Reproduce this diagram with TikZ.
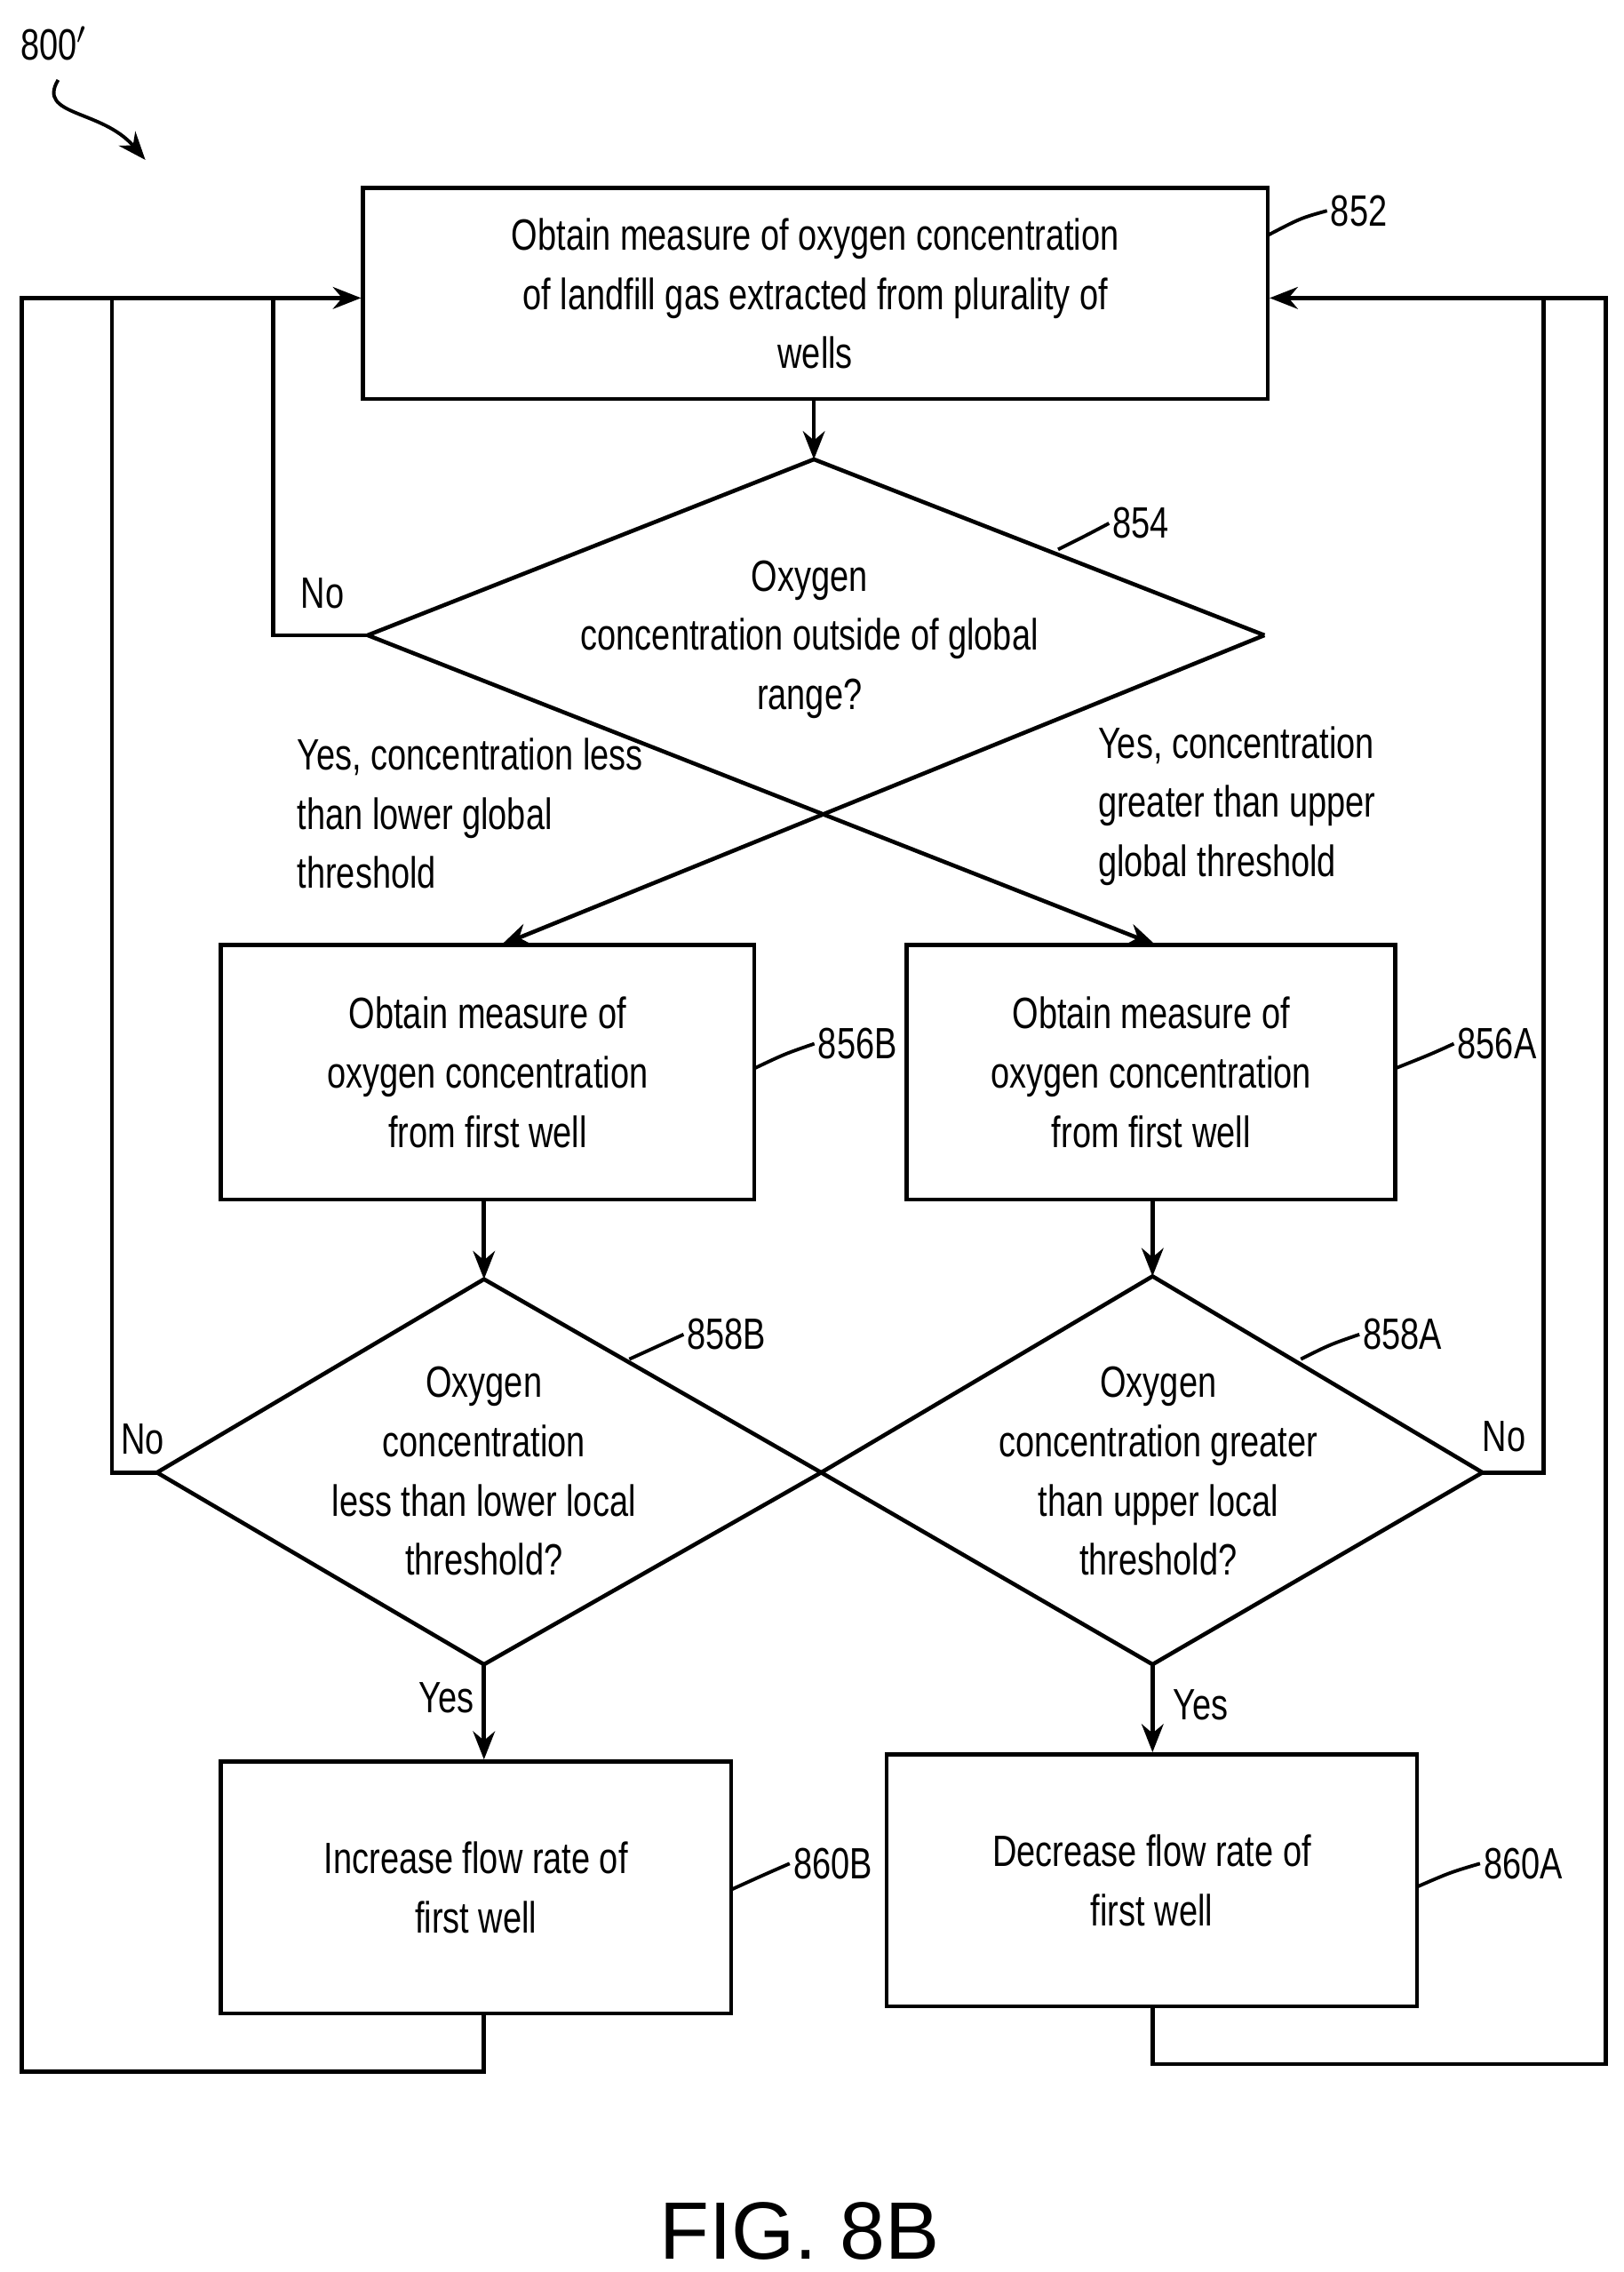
\documentclass[tikz,border=0pt]{standalone}
\usepackage{fontspec}
\setmainfont{Liberation Sans}[FakeStretch=0.77]
\newfontfamily\figfont{Liberation Sans}
\usetikzlibrary{arrows.meta}
\begin{document}
\begin{tikzpicture}[x=0.01633cm,y=-0.01633cm,
  every node/.style={font=\fontsize{14}{19}\selectfont},
  box/.style={draw,line width=1.3pt,rectangle,align=center,inner sep=0pt},
  ln/.style={line width=1.3pt},
  arr/.style={line width=1.3pt,-{Stealth[length=9pt,width=7pt]}},
  lead/.style={line width=1.1pt},
  lbl/.style={inner sep=1pt}]
\useasboundingbox (0,0) rectangle (1117,1563);
% boxes
\node[box,minimum width=10.16cm,minimum height=2.37cm] (b852) at (561,202) {Obtain measure of oxygen concentration\\of landfill gas extracted from plurality of\\wells};
\node[box,minimum width=5.99cm,minimum height=2.86cm] (b856B) at (335.5,737.5) {Obtain measure of\\oxygen concentration\\from first well};
\node[box,minimum width=5.49cm,minimum height=2.86cm] (b856A) at (792,737.5) {Obtain measure of\\oxygen concentration\\from first well};
\node[box,minimum width=5.73cm,minimum height=2.83cm] (b860B) at (327.5,1298.5) {Increase flow rate of\\first well};
\node[box,minimum width=5.96cm,minimum height=2.83cm] (b860A) at (792.5,1293.5) {Decrease flow rate of\\first well};
% diamond 854 (upper half + crossing connectors)
\coordinate (d854t) at (560,316);
\coordinate (d854l) at (253,437);
\coordinate (d854r) at (870,437);
\coordinate (p856A) at (795,650);
\coordinate (p856B) at (345,650);
\draw[ln] (d854l) -- (d854t) -- (d854r);
\node[align=center] (t854) at (557,440) {Oxygen\\concentration outside of global\\range?};
\draw[arr] (b852.south -| d854t) -- (d854t);
\draw[arr] (d854l) -- (p856A);
\draw[arr] (d854r) -- (p856B);
% diamonds 858
\coordinate (dBt) at (333,880); \coordinate (dBl) at (108,1013);
\coordinate (dBr) at (565,1013); \coordinate (dBb) at (333,1145);
\coordinate (dAt) at (793,878); \coordinate (dAl) at (565,1013);
\coordinate (dAr) at (1020,1013); \coordinate (dAb) at (793,1145);
\draw[ln] (dBt) -- (dBr) -- (dBb) -- (dBl) -- cycle;
\draw[ln] (dAt) -- (dAr) -- (dAb) -- (dAl) -- cycle;
\node[align=center] (t858B) at (333,1012) {Oxygen\\concentration\\less than lower local\\threshold?};
\node[align=center] (t858A) at (797,1012) {Oxygen\\concentration greater\\than upper local\\threshold?};
\draw[arr] (b856B.south -| dBt) -- (dBt);
\draw[arr] (b856A.south -| dAt) -- (dAt);
\draw[arr] (dBb) -- (b860B.north -| dBb);
\draw[arr] (dAb) -- (b860A.north -| dAb);
% feedback loops
\coordinate (inL) at (250,205); \coordinate (inR) at (872,205);
\draw[arr] (b860B.south -| 333,0) -- (333,1425) -- (15,1425) -- (15,205) -- (b852.west |- inL);
\draw[ln] (dBl) -- (77,1013) -- (77,205);
\draw[ln] (d854l) -- (188,437) -- (188,205);
\draw[arr] (b860A.south -| 793,0) -- (793,1420) -- (1105,1420) -- (1105,205) -- (b852.east |- inR);
\draw[ln] (dAr) -- (1062,1013) -- (1062,205);
% labels
\node[lbl] (no1) at (222,408) {No};
\node[lbl] (no2) at (98,990) {No};
\node[lbl] (no3) at (1035,988) {No};
\node[lbl] (yes1) at (307,1168) {Yes};
\node[lbl] (yes2) at (826,1173) {Yes};
\node[lbl,align=left,anchor=north west] (yl) at (202,505) {Yes, concentration less\\than lower global\\threshold};
\node[lbl,align=left,anchor=north west] (yr) at (753,497) {Yes, concentration\\greater than upper\\global threshold};
% reference numerals
\node[lbl] (n852) at (935,145) {852};
\draw[lead] (872,162) .. controls (895,150) .. (n852.west);
\node[lbl] (n854) at (785,360) {854};
\draw[lead] (728,378) .. controls (748,368) .. (n854.west);
\node[lbl] (n856B) at (590,718) {856B};
\draw[lead] (519,735) .. controls (540,725) .. (n856B.west);
\node[lbl] (n856A) at (1030,718) {856A};
\draw[lead] (960,735) .. controls (985,725) .. (n856A.west);
\node[lbl] (n858B) at (500,918) {858B};
\draw[lead] (433,935) .. controls (455,925) .. (n858B.west);
\node[lbl] (n858A) at (965,918) {858A};
\draw[lead] (895,935) .. controls (915,925) .. (n858A.west);
\node[lbl] (n860B) at (573,1282) {860B};
\draw[lead] (503,1300) .. controls (525,1290) .. (n860B.west);
\node[lbl] (n860A) at (1048,1282) {860A};
\draw[lead] (975,1298) .. controls (998,1288) .. (n860A.west);
\node[lbl] (n800) at (37,30) {800$'$};
\coordinate (a800) at (100,110);
\draw[lead,-{Stealth[length=9pt,width=7pt]}] (40,55) .. controls (25,80) and (70,75) .. (a800);
\node (fig) at (550,1535) {\figfont\fontsize{26}{30}\selectfont FIG. 8B};
\end{tikzpicture}
\end{document}
